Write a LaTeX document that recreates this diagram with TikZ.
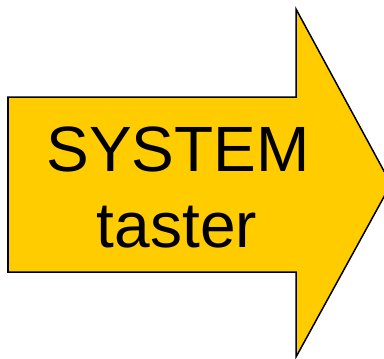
\documentclass[tikz,border=0pt]{standalone}
\usepackage{fontspec}
\setmainfont{Liberation Sans}
\usepackage{tikz}
\usetikzlibrary{arrows.meta}

\begin{document}
\begin{tikzpicture}[x=1pt, y=-1pt]
  % colours
  \definecolor{arrowfill}{RGB}{255,204,0}
  \tikzset{bigword/.style={anchor=base, font=\fontsize{64}{76}\selectfont}}

  % frame of the picture
  \useasboundingbox (0,0) rectangle (384,359);

  % the big arrow
  \begin{scope}
    \clip (0,0) rectangle (384,359);
    \draw[fill=arrowfill, line width=1.5pt, line join=miter]
      (8,97) -- (296,97) -- (296,9) -- (391,184) -- (296,357) -- (296,272) -- (8,272) -- cycle;
  \end{scope}

  % text
  \node[bigword] (w1) at (178,171) {SYSTEM};
  \node[bigword] (w2) at (177,247) {taster};

\end{tikzpicture}
\end{document}
